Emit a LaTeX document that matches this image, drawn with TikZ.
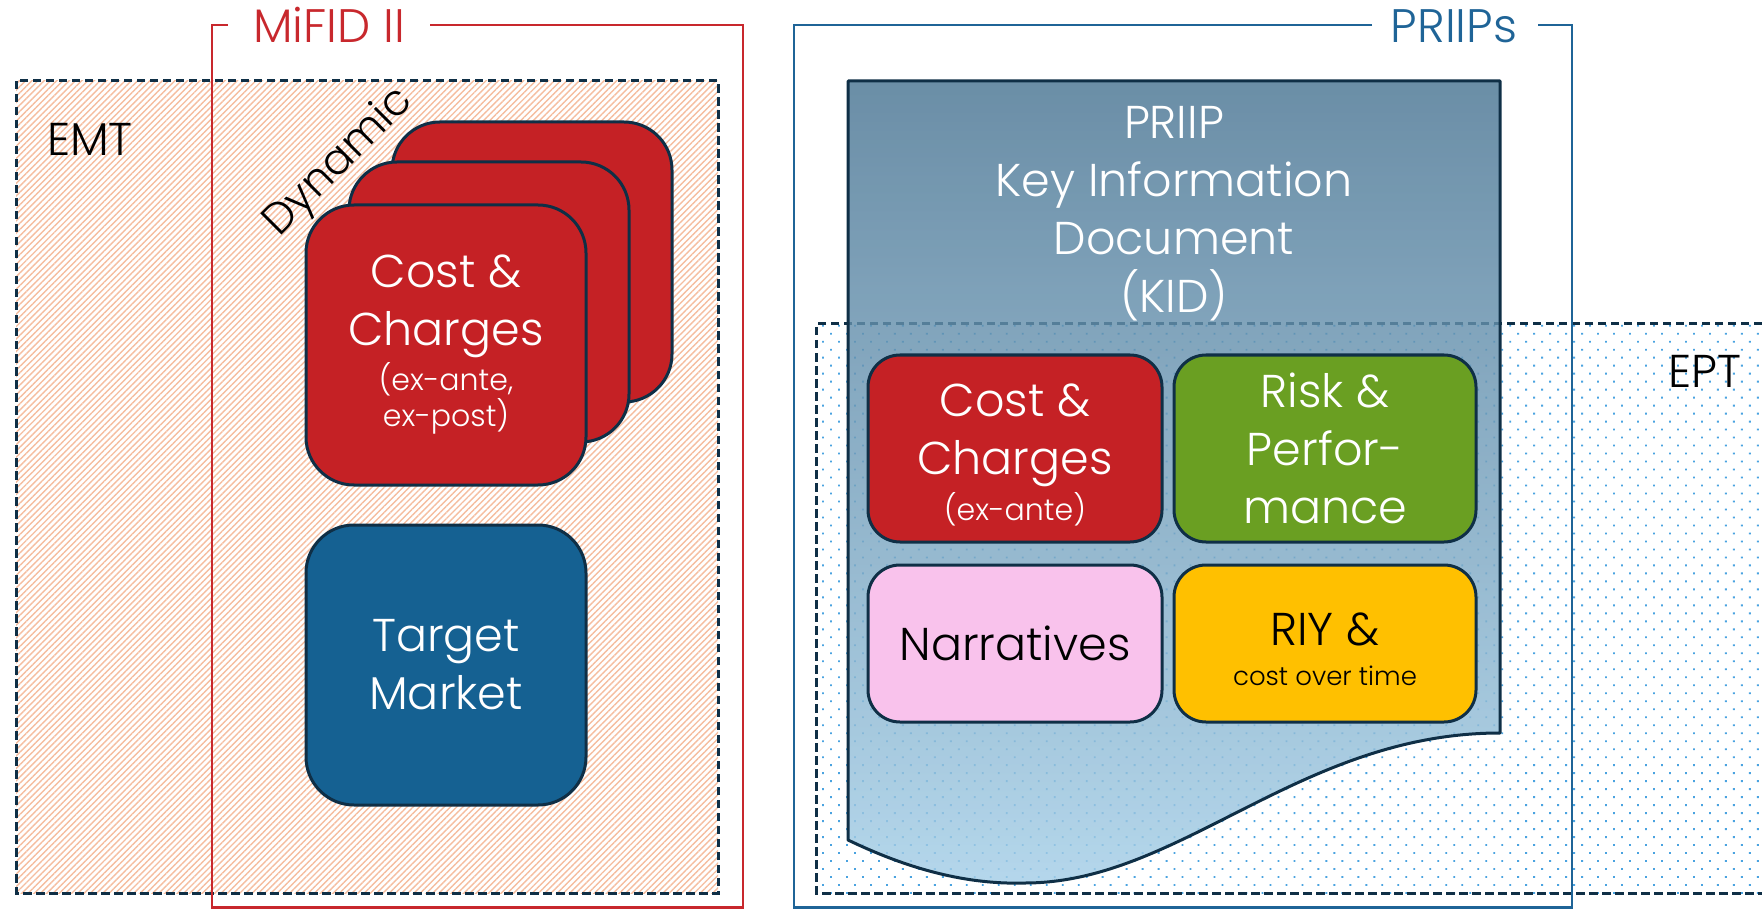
\documentclass[tikz,border=0pt]{standalone}
\usepackage{fontspec}
\setmainfont{Poppins}[UprightFont={* Light}]
\usetikzlibrary{patterns.meta}

\definecolor{navy}{HTML}{0F2F46}
\definecolor{mifidred}{HTML}{C8282D}
\definecolor{priipsblue}{HTML}{1F6497}
\definecolor{cardred}{HTML}{C52125}
\definecolor{tmblue}{HTML}{156192}
\definecolor{riskgreen}{HTML}{6A9F22}
\definecolor{narrpink}{HTML}{F9C2EC}
\definecolor{riyamber}{HTML}{FFC000}
\definecolor{hatchpeach}{HTML}{F5BD9F}
\definecolor{dotblue}{HTML}{4AA3E0}
\definecolor{doctop}{HTML}{4A7593}
\definecolor{docbot}{HTML}{A4CEE7}

\newcommand{\subline}{\fontsize{30}{37}\selectfont}
\newcommand{\tinyline}{\fontsize{26}{33}\selectfont}

\tikzset{
  bigtext/.style={font=\fontsize{46}{58}\selectfont},
  zoneline/.style={line width=2.5pt},
  zonedash/.style={draw=navy, line width=3pt, dash pattern=on 8.5pt off 4.5pt},
  bigcard/.style={draw=navy, line width=3pt, rounded corners=48pt, inner sep=0pt,
    minimum width=280pt, minimum height=280pt, text=white, align=center, bigtext},
  kidbox/.style={draw=navy, line width=3pt, rounded corners=32pt, inner sep=0pt,
    align=center, bigtext},
  kidlabel/.style={inner sep=0pt, align=center, bigtext},
}

\begin{document}
\begin{tikzpicture}[x=1pt,y=-1pt]
\useasboundingbox (0,0) rectangle (1762,909);

% ---------------- EMT zone (hatched) ----------------
\path[pattern={Lines[angle=45,distance=4.4pt,line width=1.4pt]}, pattern color=hatchpeach]
  (16,81) rectangle (718,893);
\draw[zonedash] (16,81) rectangle (718,893);
\node[bigtext, anchor=base] (emt) at (90,156) {EMT};

% ---------------- MiFID II frame ----------------
\node[font=\fontsize{47}{50}\selectfont, text=mifidred, anchor=base] (mifid) at (329,43) {MiFID II};
\draw[mifidred, zoneline] (228,25) -- (212,25) -- (212,907.5) -- (743,907.5) -- (743,25) -- (430,25);

% ---------------- stacked cost cards ----------------
\node[bigcard, fill=cardred] (cardback) at (532,262) {};
\node[bigcard, fill=cardred] (cardmid) at (489,302) {};
\node[bigcard, fill=cardred] (cardfront) at (446,345)
  {Cost \&\\Charges\\[-13pt]\subline (ex-ante,\\[-22pt]\subline ex-post)};
\node[font=\fontsize{43}{50}\selectfont, rotate=45] (dynamic) at (339,163) {Dynamic};

\node[bigcard, fill=tmblue] (target) at (446,665) {Target\\Market};

% ---------------- EPT zone (dotted) ----------------
\path[pattern={Dots[angle=45,distance=11.3pt,radius=1.3pt]}, pattern color=dotblue]
  (816,324) rectangle (1775,893);
\draw[zonedash] (1775,324) -- (816,324) -- (816,893) -- (1775,893);
\node[bigtext, anchor=base] (ept) at (1705,388) {EPT};

% ---------------- PRIIPs frame ----------------
\node[font=\fontsize{47}{50}\selectfont, text=priipsblue, anchor=base] (priips) at (1454,43) {PRIIPs};
\draw[priipsblue, zoneline] (1372,25) -- (794,25) -- (794,907.5) -- (1572,907.5) -- (1572,25) -- (1538,25);

% ---------------- KID document sheet ----------------
\shade[top color=doctop, bottom color=docbot, fill opacity=0.82]
  (848,81) -- (1500,81) -- (1500,733)
  .. controls (1300,733) and (1180,883) .. (1025,883)
  .. controls (960,885) and (900,865) .. (848,840) -- cycle;
\draw[navy, line width=3pt, line join=round]
  (848,81) -- (1500,81) -- (1500,733)
  .. controls (1300,733) and (1180,883) .. (1025,883)
  .. controls (960,885) and (900,865) .. (848,840) -- cycle;
\node[bigtext, text=white, align=center] (kidtitle) at (1174,214)
  {PRIIP\\Key Information\\Document\\(KID)};

% ---------------- KID sections ----------------
\node[kidbox, fill=cardred, minimum width=294pt, minimum height=187pt] (kidcost) at (1015,448.5) {};
\node[kidlabel, text=white] (kidcosttext) at (1015,455)
  {Cost \&\\Charges\\[-12pt]\subline (ex-ante)};
\node[kidbox, fill=riskgreen, text=white, minimum width=302pt, minimum height=187pt] (kidrisk) at (1325,448.5)
  {Risk \&\\Perfor-\\mance};
\node[kidbox, fill=narrpink, text=black, minimum width=294pt, minimum height=157pt] (kidnarr) at (1015,643.5)
  {Narratives};
\node[kidbox, fill=riyamber, minimum width=302pt, minimum height=157pt] (kidriy) at (1325,643.5) {};
\node[kidlabel, text=black] (kidriytext) at (1325,649.5)
  {RIY \&\\[-18pt]\tinyline cost over time};
\end{tikzpicture}
\end{document}
